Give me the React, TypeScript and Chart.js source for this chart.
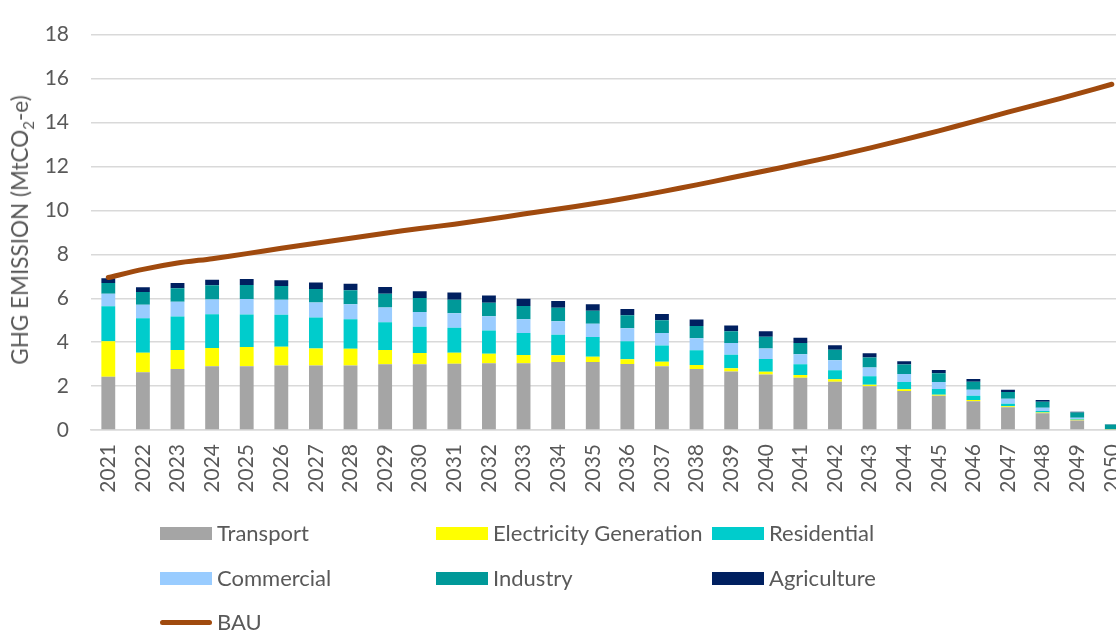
import React, { useEffect, useRef } from "react";
import { Chart, registerables } from "chart.js";

Chart.register(...registerables);

const years = ["2021","2022","2023","2024","2025","2026","2027","2028","2029","2030","2031","2032","2033","2034","2035","2036","2037","2038","2039","2040","2041","2042","2043","2044","2045","2046","2047","2048","2049","2050"];

const transport = [2.42,2.63,2.78,2.90,2.90,2.94,2.94,2.94,2.99,2.99,3.02,3.04,3.04,3.09,3.09,3.00,2.90,2.78,2.66,2.53,2.38,2.20,1.99,1.78,1.56,1.31,1.04,0.76,0.43,0.02];
const electricity = [1.62,0.89,0.86,0.83,0.88,0.85,0.77,0.76,0.65,0.52,0.50,0.43,0.37,0.31,0.25,0.22,0.21,0.18,0.15,0.12,0.12,0.11,0.07,0.08,0.04,0.06,0.04,0.04,0.04,0.01];
const residential = [1.59,1.57,1.53,1.54,1.48,1.46,1.41,1.34,1.26,1.19,1.13,1.06,1.01,0.94,0.89,0.82,0.74,0.67,0.62,0.58,0.49,0.41,0.39,0.33,0.27,0.19,0.12,0.06,0.03,0.01];
const commercial = [0.57,0.61,0.67,0.67,0.70,0.68,0.68,0.68,0.68,0.67,0.66,0.65,0.62,0.61,0.61,0.59,0.57,0.55,0.53,0.48,0.46,0.45,0.40,0.36,0.31,0.27,0.22,0.15,0.06,0.01];
const industry = [0.49,0.58,0.61,0.65,0.64,0.62,0.62,0.64,0.62,0.64,0.62,0.61,0.61,0.62,0.59,0.59,0.58,0.56,0.53,0.53,0.51,0.48,0.45,0.43,0.40,0.37,0.31,0.28,0.24,0.20];
const agriculture = [0.22,0.22,0.24,0.25,0.27,0.27,0.29,0.30,0.31,0.31,0.33,0.33,0.33,0.30,0.30,0.29,0.28,0.29,0.27,0.25,0.24,0.21,0.19,0.15,0.15,0.12,0.10,0.08,0.03,0.01];
const bau = [6.94,7.31,7.60,7.80,8.03,8.27,8.50,8.73,8.96,9.17,9.37,9.59,9.83,10.06,10.30,10.56,10.85,11.16,11.48,11.80,12.13,12.47,12.83,13.22,13.62,14.04,14.47,14.88,15.30,15.74];

const yTicks = [0, 2, 4, 6, 8, 10, 12, 14, 16, 18];

const seriesNames = ["Transport", "Electricity Generation", "Residential", "Commercial", "Industry", "Agriculture"];
const seriesColors = ["#a5a5a5", "#ffff00", "#00cccc", "#99ccff", "#009999", "#002060"];
const bauName = "BAU";
const bauColor = "#a04a0e";

const FONT = "Lato, 'Open Sans', sans-serif";
const TEXT = "#595959";

export default function App() {
  const ref = useRef<HTMLCanvasElement | null>(null);

  useEffect(() => {
    if (!ref.current) return;
    const values = [transport, electricity, residential, commercial, industry, agriculture];
    const chart = new Chart(ref.current, {
      type: "bar",
      data: {
        labels: years,
        datasets: [
          {
            type: "line",
            label: bauName,
            data: bau,
            borderColor: bauColor,
            backgroundColor: bauColor,
            borderWidth: 5,
            pointRadius: 0,
            tension: 0.25,
            borderCapStyle: "round",
            order: -1,
          } as any,
          ...values.map((v, i) => ({
            type: "bar" as const,
            label: seriesNames[i],
            data: v,
            backgroundColor: seriesColors[i],
            borderWidth: 0,
            stack: "s",
            barPercentage: 0.4,
            categoryPercentage: 1,
          })),
        ],
      },
      options: {
        animation: false,
        responsive: false,
        maintainAspectRatio: false,
        layout: { padding: { left: 0, right: 0, top: 26, bottom: 0 } },
        plugins: { legend: { display: false }, tooltip: { enabled: false } },
        scales: {
          x: {
            stacked: true,
            offset: true,
            grid: { display: false, drawTicks: false },
            border: { display: true, color: "#d9d9d9", width: 1.5 },
            ticks: {
              minRotation: 90,
              maxRotation: 90,
              autoSkip: false,
              padding: 14,
              color: TEXT,
              font: { family: FONT, size: 21 },
            },
            afterFit: (s: any) => { s.height = 203; },
          },
          y: {
            stacked: true,
            min: 0,
            max: 18,
            afterBuildTicks: (s: any) => { s.ticks = yTicks.map((v) => ({ value: v })); },
            grid: { color: "#d9d9d9", lineWidth: 1.4, drawTicks: false },
            border: { display: false },
            ticks: {
              padding: 22,
              color: TEXT,
              font: { family: FONT, size: 21 },
            },
            afterFit: (s: any) => { s.width = 91; },
          },
        },
      },
    });
    return () => chart.destroy();
  }, []);

  const legendCols = [160, 436, 712];
  const legendRows = [533, 578];
  const textStyle: React.CSSProperties = {
    position: "absolute",
    fontFamily: FONT,
    fontSize: 22,
    color: TEXT,
    lineHeight: "24px",
    whiteSpace: "nowrap",
  };

  return (
    <div style={{ position: "fixed", left: 0, top: 0, width: 1116, height: 633, overflow: "hidden", background: "#fff" }}>
      <canvas ref={ref} width={1151} height={633} style={{ position: "absolute", left: 0, top: 0, width: 1151, height: 633 }} />
      <div
        style={{
          ...textStyle,
          fontSize: 22.5,
          left: 20,
          top: 230,
          transform: "translate(-50%, -50%) rotate(-90deg)",
        }}
      >
        GHG EMISSION (MtCO<sub style={{ fontSize: 15, lineHeight: 0 }}>2</sub>-e)
      </div>
      {seriesNames.map((name, i) => {
        const x = legendCols[i % 3];
        const y = legendRows[Math.floor(i / 3)];
        return (
          <React.Fragment key={name}>
            <div style={{ position: "absolute", left: x, top: y - 6.5, width: 52, height: 13, background: seriesColors[i] }} />
            <div style={{ ...textStyle, left: x + 57, top: y - 12 }}>{name}</div>
          </React.Fragment>
        );
      })}
      <div style={{ position: "absolute", left: 160, top: 619.5, width: 52, height: 5, borderRadius: 3, background: bauColor }} />
      <div style={{ ...textStyle, left: 217, top: 610 }}>{bauName}</div>
    </div>
  );
}
